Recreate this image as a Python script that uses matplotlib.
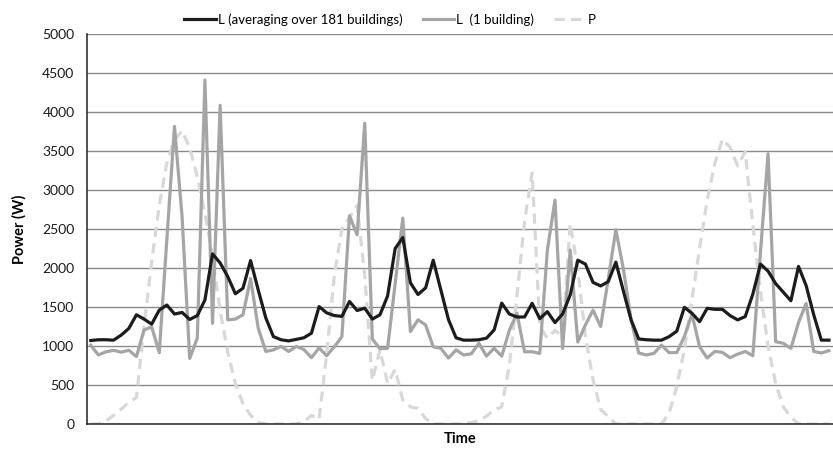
import numpy as np
import matplotlib
matplotlib.use("Agg")
import matplotlib.pyplot as plt

plt.rcParams['font.family'] = ['Lato', 'DejaVu Sans']

# hourly values over four days
load_avg = [1070, 1080, 1080, 1075, 1140, 1225, 1400, 1345, 1280, 1460,
            1525, 1410, 1430, 1340, 1390, 1590, 2180, 2065, 1890, 1670,
            1740, 2095, 1720, 1360, 1120, 1080, 1065, 1085, 1105, 1165,
            1505, 1425, 1390, 1380, 1570, 1455, 1485, 1345, 1400, 1640,
            2250, 2390, 1810, 1660, 1745, 2100, 1720, 1340, 1105, 1075,
            1075, 1080, 1100, 1205, 1550, 1410, 1372, 1372, 1547, 1350,
            1440, 1300, 1410, 1655, 2100, 2050, 1815, 1770, 1825, 2075,
            1700, 1335, 1090, 1080, 1075, 1075, 1120, 1190, 1495, 1420,
            1312, 1483, 1470, 1470, 1390, 1335, 1377, 1665, 2050, 1960,
            1800, 1690, 1580, 2020, 1775, 1400, 1075, 1075]

load_one = [1010, 885, 925, 945, 920, 945, 865, 1205, 1245, 915,
            2370, 3815, 2655, 840, 1100, 4410, 1290, 4085, 1335, 1345,
            1400, 1865, 1230, 930, 950, 995, 930, 995, 955, 850,
            975, 875, 990, 1120, 2670, 2425, 3855, 1090, 965, 970,
            1800, 2640, 1185, 1335, 1270, 990, 970, 845, 950, 885,
            900, 1035, 870, 970, 870, 1200, 1420, 926, 926, 905,
            2230, 2870, 970, 2230, 1050, 1270, 1460, 1250, 1860, 2490,
            1980, 1340, 910, 885, 905, 1010, 915, 915, 1120, 1410,
            990, 845, 930, 918, 850, 895, 930, 875, 2200, 3465,
            1055, 1035, 970, 1300, 1545, 930, 910, 940]

pv = [0, 0, 40, 110, 190, 280, 340, 1250, 2080, 2800,
      3350, 3640, 3760, 3540, 3170, 2700, 2150, 1450, 920, 520,
      260, 110, 20, 0, 0, 0, 0, 0, 30, 110,
      60, 900, 1900, 2500, 2650, 2800, 1900, 560, 950, 520,
      700, 310, 220, 200, 70, 0, 0, 0, 0, 0,
      20, 40, 100, 180, 220, 750, 1640, 2600, 3220, 1250,
      1100, 1200, 1120, 2570, 1980, 1120, 570, 185, 95, 0,
      0, 0, 0, 0, 0, 0, 140, 480, 950, 1600,
      2250, 2870, 3340, 3650, 3550, 3310, 3490, 2550, 1700, 1000,
      520, 220, 90, 0, 0, 0, 0, 0]

labels = ['L (averaging over 181 buildings)', 'L  (1 building)', 'P']
yticks = np.arange(0, 5001, 500)

t = np.arange(len(load_avg))

fig = plt.figure(figsize=(8.33, 4.49), dpi=100)
ax = fig.add_axes([0.1044, 0.0557, 0.8953, 0.8686])

ax.plot(t, load_avg, color='#1c1c1c', lw=2.3, label=labels[0], zorder=3)
ax.plot(t, load_one, color='#a5a5a5', lw=2.3, label=labels[1], zorder=2)
ax.plot(t, pv, color='#d8d8d8', lw=2.3, dashes=(3.2, 2), label=labels[2], zorder=1)

ax.set_xlim(-0.5, len(t) - 0.5)
ax.set_ylim(0, 5000)
ax.set_yticks(yticks)
ax.set_xticks([])
ax.yaxis.grid(True, color='#8a8a8a', lw=1)
ax.set_axisbelow(True)
ax.tick_params(axis='y', labelsize=10, length=0, pad=9, colors='#1a1a1a')

for s in ['top', 'right']:
    ax.spines[s].set_visible(False)
ax.spines['left'].set_color('#222222')
ax.spines['bottom'].set_color('#222222')
ax.spines['left'].set_linewidth(1.1)
ax.spines['bottom'].set_linewidth(1.1)

ax.set_ylabel('Power (W)', fontsize=10.5, fontweight='bold', labelpad=11)
ax.set_xlabel('Time', fontsize=10.5, fontweight='bold', labelpad=6)

fig.legend(*ax.get_legend_handles_labels(), loc='lower center',
           bbox_to_anchor=(390 / 833, 0.925), ncol=3, frameon=False,
           fontsize=9.5, handlelength=2.4, handletextpad=0.15, columnspacing=1.5,
           borderaxespad=0.2)

fig.savefig('out.png', dpi=100)
